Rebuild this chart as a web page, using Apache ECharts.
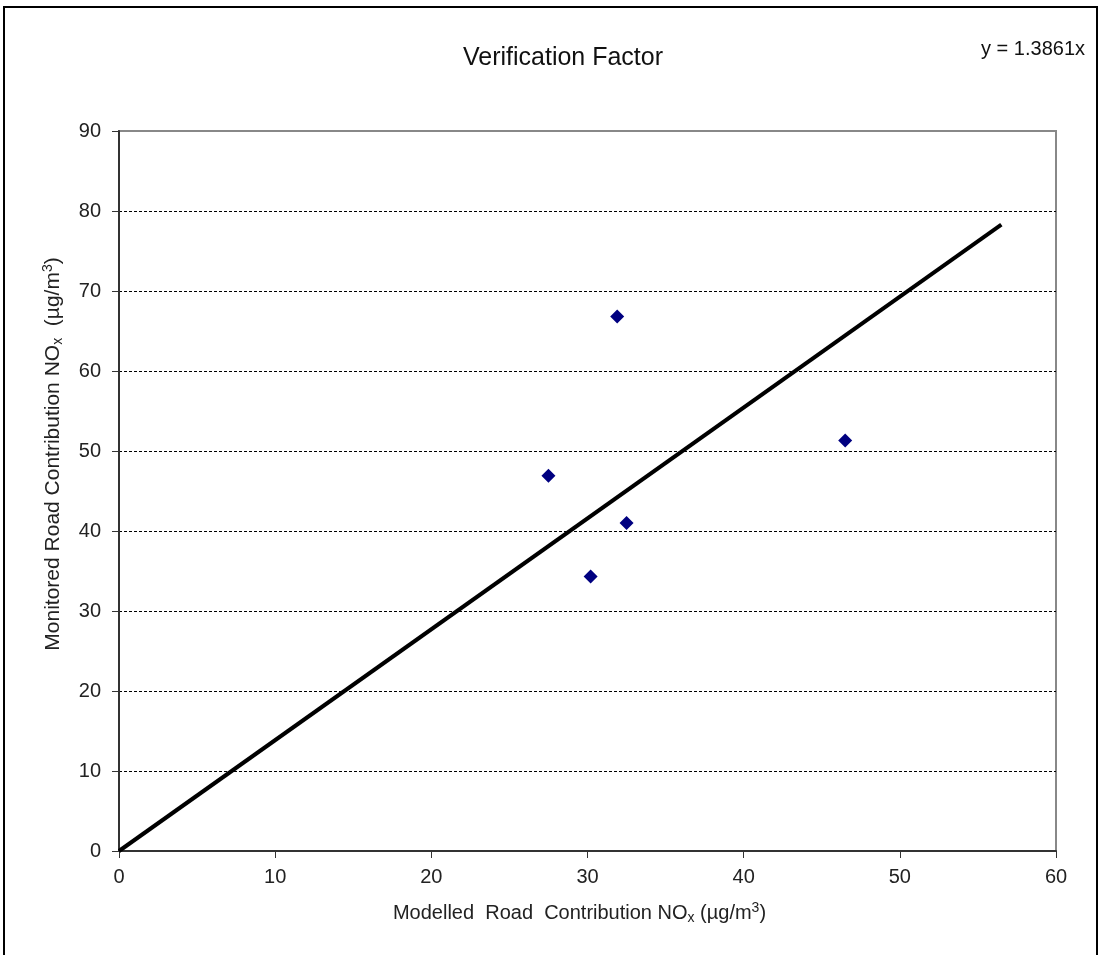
<!DOCTYPE html>
<html>
<head>
<meta charset="utf-8">
<script src="https://cdn.jsdelivr.net/npm/echarts@6/dist/echarts.min.js"></script>
<style>
  html, body { margin: 0; padding: 0; background: #fff; }
  #frame {
    position: absolute; left: 3px; top: 6px; width: 1095px; height: 960px;
    border: 2px solid #000; box-sizing: border-box;
  }
  #chart { position: absolute; left: 0; top: 0; width: 1101px; height: 955px; }
</style>
</head>
<body>
<div id="frame"></div>
<div id="chart"></div>
<script>
// modelled vs monitored road NOx
const modelled = [27.5, 31.9, 30.2, 32.5, 46.5]
const monitored = [46.9, 66.8, 34.3, 41.0, 51.3]
// fitted line y = 1.3861x, end points
const fitLine = [[0, 0], [56.5, 78.3]]
const equationText = 'y = 1.3861x'

const chart = echarts.init(document.getElementById('chart'))

const nameRich = {
  sub: { fontSize: 14, padding: [10, 0, 0, 0], color: '#222', fontFamily: 'Liberation Sans' },
  sup: { fontSize: 14, padding: [0, 0, 9, 0], color: '#222', fontFamily: 'Liberation Sans' }
}

chart.setOption({
  animation: false,
  textStyle: { fontFamily: 'Liberation Sans' },
  title: [
    {
      text: 'Verification Factor',
      left: 558, top: 41, textAlign: 'center',
      textStyle: { fontSize: 25, fontWeight: 'normal', color: '#111' }
    },
    {
      text: equationText,
      right: 11, top: 34,
      textStyle: { fontSize: 20, fontWeight: 'normal', color: '#111' }
    }
  ],
  grid: {
    left: 119, right: 45, top: 131, bottom: 104,
    show: true, borderColor: '#888', borderWidth: 2
  },
  xAxis: {
    type: 'value',
    min: 0, max: 60, interval: 10,
    name: 'Modelled  Road  Contribution NO{sub|x} (µg/m{sup|3})',
    nameLocation: 'middle',
    nameGap: 50,
    nameTextStyle: { fontSize: 20, color: '#222', rich: nameRich, padding: [0, 16, 0, 0] },
    axisLine: { lineStyle: { color: '#333', width: 2 } },
    axisTick: { show: true, length: 7, lineStyle: { color: '#333' } },
    axisLabel: { fontSize: 20, color: '#222', margin: 16 },
    splitLine: { show: false }
  },
  yAxis: {
    type: 'value',
    min: 0, max: 90, interval: 10,
    name: 'Monitored Road Contribution NO{sub|x}  (µg/m{sup|3})',
    nameLocation: 'middle',
    nameGap: 54,
    nameTextStyle: { fontSize: 21, color: '#222', rich: nameRich, padding: [0, 0, 0, 74] },
    axisLine: { show: true, lineStyle: { color: '#333', width: 2 } },
    axisTick: { show: true, length: 7, lineStyle: { color: '#333' } },
    axisLabel: { fontSize: 20, color: '#222', margin: 18 },
    splitLine: {
      show: true, showMinLine: false, showMaxLine: false,
      lineStyle: { color: '#000', type: [3, 2], width: 1 }
    }
  },
  series: [
    {
      type: 'line',
      data: fitLine,
      symbol: 'none',
      lineStyle: { color: '#000', width: 4 },
      z: 2
    },
    {
      type: 'scatter',
      data: modelled.map((x, i) => [x, monitored[i]]),
      symbol: 'diamond',
      symbolSize: 14,
      itemStyle: { color: '#000080', opacity: 1 },
      z: 3
    }
  ]
})
</script>
</body>
</html>
